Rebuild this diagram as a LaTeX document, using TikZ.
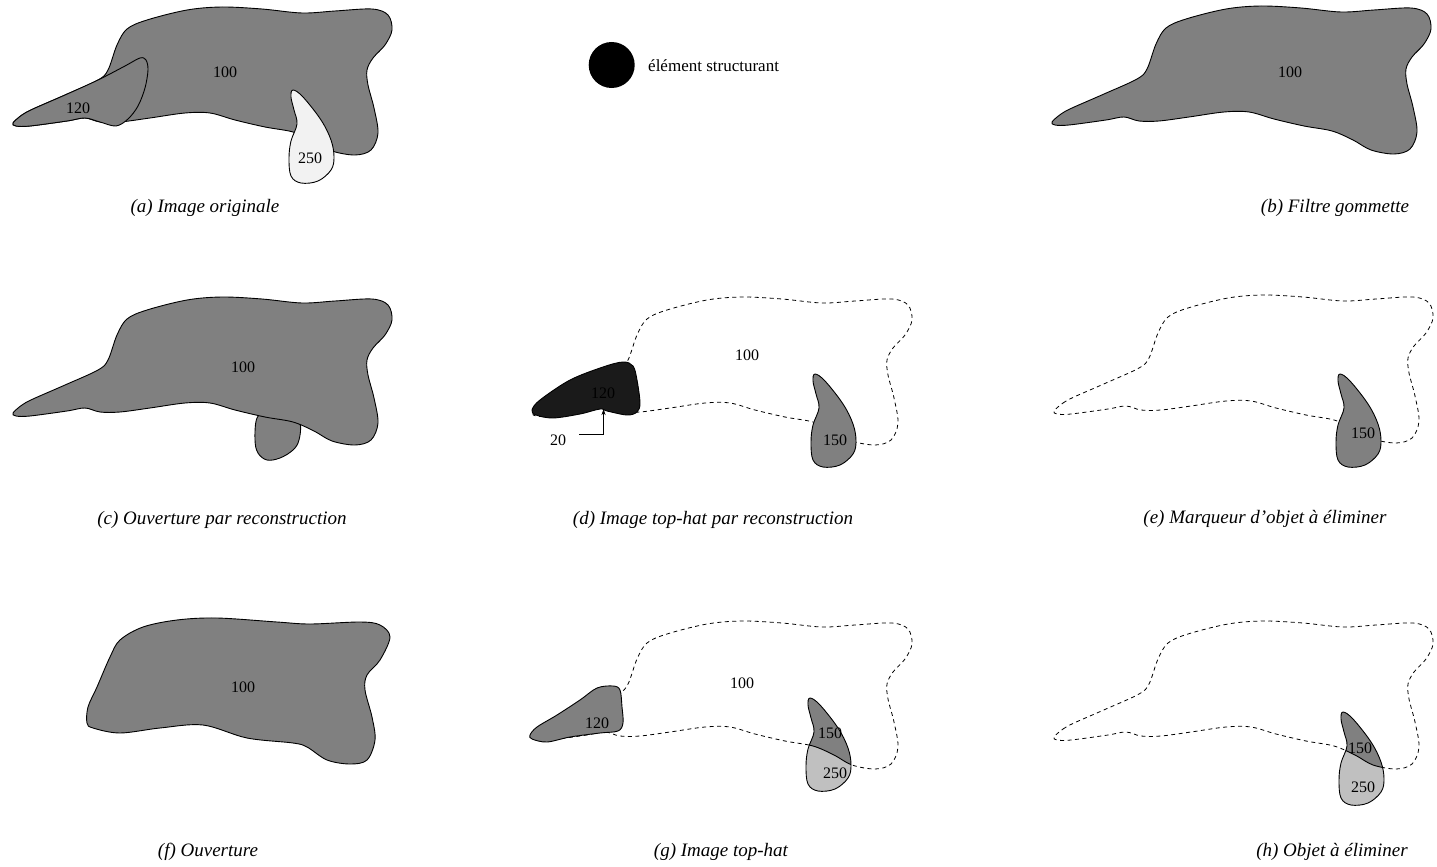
\documentclass[tikz,border=0pt]{standalone}
\usepackage{fontspec}
\setmainfont{Liberation Serif}
\usetikzlibrary{arrows.meta}
\definecolor{midgray}{HTML}{808080}
\definecolor{palegray}{HTML}{F2F2F2}
\definecolor{softgray}{HTML}{C0C0C0}
\definecolor{nearblack}{HTML}{1A1A1A}
\newcommand{\mainregion}[1]{\path[#1] plot[smooth cycle,tension=0.55] coordinates {(13,123) (22,115) (33,109) (65,95) (98,80) (108,70) (117,45) (127,29) (147,20) (187,10) (222,7) (262,9) (302,13) (335,11) (372,9) (388,15) (392,30) (385,45) (373,58) (367,70) (368,85) (374,108) (378,133) (371,150) (355,155) (332,151) (314,141) (293,132) (265,127) (235,120) (210,113) (185,113) (150,118) (120,122) (100,122) (85,118) (67,121) (30,126) (16,126)};}
\newcommand{\blobregion}[1]{\path[#1] plot[smooth cycle,tension=0.6] coordinates {(0,0) (10,7) (28,30) (38,50) (41,67) (38,80) (25,91) (8,93) (-2,86) (-4,68) (-2,51) (4,34) (1,20) (-2,7)};}
\newcommand{\darkleaf}[1]{\path[#1] plot[smooth cycle,tension=0.55] coordinates {(532,410) (540,400) (570,380) (603,367) (623,362) (633,366) (637,380) (640,403) (637,412) (627,415) (607,411) (600,409) (580,414) (553,418) (536,415)};}
\newcommand{\grayleaf}[1]{\path[#1] plot[smooth cycle,tension=0.55] coordinates {(530,735) (537,727) (557,715) (580,700) (597,688) (613,686) (620,690) (622,707) (623,723) (618,731) (600,733) (570,737) (547,742) (532,739)};}
\tikzset{
  outl/.style={draw=black,line width=0.9pt},
  dashline/.style={draw=black,line width=0.8pt,dash pattern=on 4pt off 3.5pt},
  lbl/.style={font=\fontsize{16}{18}\selectfont,inner sep=0pt},
  captxt/.style={font=\fontsize{19}{22}\selectfont\itshape,inner sep=0pt},
}
\begin{document}
\begin{tikzpicture}[x=1pt,y=-1pt]
\useasboundingbox (0,0) rectangle (1437,867);
% (a)
\mainregion{outl,fill=midgray}
\path[outl,fill=midgray] plot[smooth cycle,tension=0.55] coordinates {(13,123) (22,115) (33,109) (65,95) (98,80) (125,66) (140,58) (146,60) (148,70) (145,88) (138,106) (128,119) (116,126) (100,122) (85,118) (67,121) (30,126) (16,126)};
\blobregion{outl,fill=palegray,shift={(293,90)}}
\node[lbl] (a100) at (225,72) {100};
\node[lbl] (a120) at (78,108) {120};
\node[lbl] (a250) at (310,158) {250};
\node[captxt] (capa) at (205,208) {(a) Image originale};
% legend
\fill[black] (611.7,65) circle[radius=23];
\node[lbl,font=\fontsize{17}{20}\selectfont,anchor=west] (legend) at (648,66) {élément structurant};
% (b)
\begin{scope}[shift={(1039,-1)}]
\mainregion{outl,fill=midgray}
\end{scope}
\node[lbl] (b100) at (1290,72) {100};
\node[captxt] (capb) at (1335,208) {(b) Filtre gommette};
% (c)
\begin{scope}[shift={(0,290)}]
\path[outl,fill=midgray] plot[smooth cycle,tension=0.6] coordinates {(257,128) (255,150) (258,163) (267,170) (280,168) (293,160) (299,150) (300,133) (290,120) (268,120)};
\mainregion{outl,fill=midgray}
\end{scope}
\node[lbl] (c100) at (243,367) {100};
\node[captxt] (capc) at (222,520) {(c) Ouverture par reconstruction};
% (d)
\begin{scope}[even odd rule]
\clip (480,250) rectangle (1000,500) plot[smooth cycle,tension=0.55] coordinates {(532,410) (540,400) (570,380) (603,367) (623,362) (633,366) (637,380) (640,403) (637,412) (627,415) (607,411) (600,409) (580,414) (553,418) (536,415)};
\mainregion{dashline,shift={(520,290)}}
\end{scope}
\darkleaf{outl,fill=nearblack}
\blobregion{outl,fill=midgray,shift={(815,374)}}
\node[lbl] (d100) at (747,355) {100};
\node[lbl] (d120) at (603,393) {120};
\node[lbl] (d150) at (835,440) {150};
\node[lbl] (d20) at (558,440) {20};
\coordinate (d20tip) at (603.5,409);
\draw[line width=0.7pt,-{Stealth[length=6pt,width=4pt]}] (d20.east) ++(13,-6) -| (d20tip);
\node[captxt] (capd) at (713,520) {(d) Image top-hat par reconstruction};
% (e)
\begin{scope}[shift={(1041,288)}]
\mainregion{dashline}
\end{scope}
\blobregion{outl,fill=midgray,shift={(1340,374)}}
\node[lbl] (e150) at (1363,433) {150};
\node[captxt] (cape) at (1265,519) {(e) Marqueur d’objet à éliminer};
% (f)
\begin{scope}[shift={(0,614)}]
\path[outl,fill=midgray] plot[smooth cycle,tension=0.55] coordinates {(87,109) (93,114) (120,119) (160,114) (203,111) (247,124) (293,129) (307,133) (327,146) (350,150) (367,146) (375,126) (372,103) (365,76) (367,61) (380,46) (390,23) (380,11) (360,8) (310,10) (277,8) (217,4) (177,6) (143,13) (120,26) (110,43) (97,73) (88,93)};
\end{scope}
\node[lbl] (f100) at (243,687) {100};
\node[captxt] (capf) at (208,852) {(f) Ouverture};
% (g)
\begin{scope}[even odd rule]
\clip (480,580) rectangle (1000,830) plot[smooth cycle,tension=0.55] coordinates {(530,735) (537,727) (557,715) (580,700) (597,688) (613,686) (620,690) (622,707) (623,723) (618,731) (600,733) (570,737) (547,742) (532,739)};
\mainregion{dashline,shift={(520,614)}}
\end{scope}
\grayleaf{outl,fill=midgray}
\blobregion{fill=softgray,shift={(810,698)}}
\begin{scope}
\mainregion{clip,shift={(520,614)}}
\blobregion{fill=midgray,shift={(810,698)}}
\end{scope}
\begin{scope}
\blobregion{clip,shift={(810,698)}}
\mainregion{outl,shift={(520,614)}}
\end{scope}
\blobregion{outl,shift={(810,698)}}
\node[lbl] (g100) at (742,683) {100};
\node[lbl] (g120) at (597,723) {120};
\node[lbl] (g150) at (830,733) {150};
\node[lbl] (g250) at (835,773) {250};
\node[captxt] (capg) at (721,852) {(g) Image top-hat};
% (h)
\begin{scope}[shift={(1041,614)}]
\mainregion{dashline}
\end{scope}
\blobregion{fill=softgray,shift={(1343,712)}}
\begin{scope}
\mainregion{clip,shift={(1041,614)}}
\blobregion{fill=midgray,shift={(1343,712)}}
\end{scope}
\begin{scope}
\blobregion{clip,shift={(1343,712)}}
\mainregion{outl,shift={(1041,614)}}
\end{scope}
\blobregion{outl,shift={(1343,712)}}
\node[lbl] (h150) at (1360,748) {150};
\node[lbl] (h250) at (1363,787) {250};
\node[captxt] (caph) at (1332,852) {(h) Objet à éliminer};
\end{tikzpicture}
\end{document}
